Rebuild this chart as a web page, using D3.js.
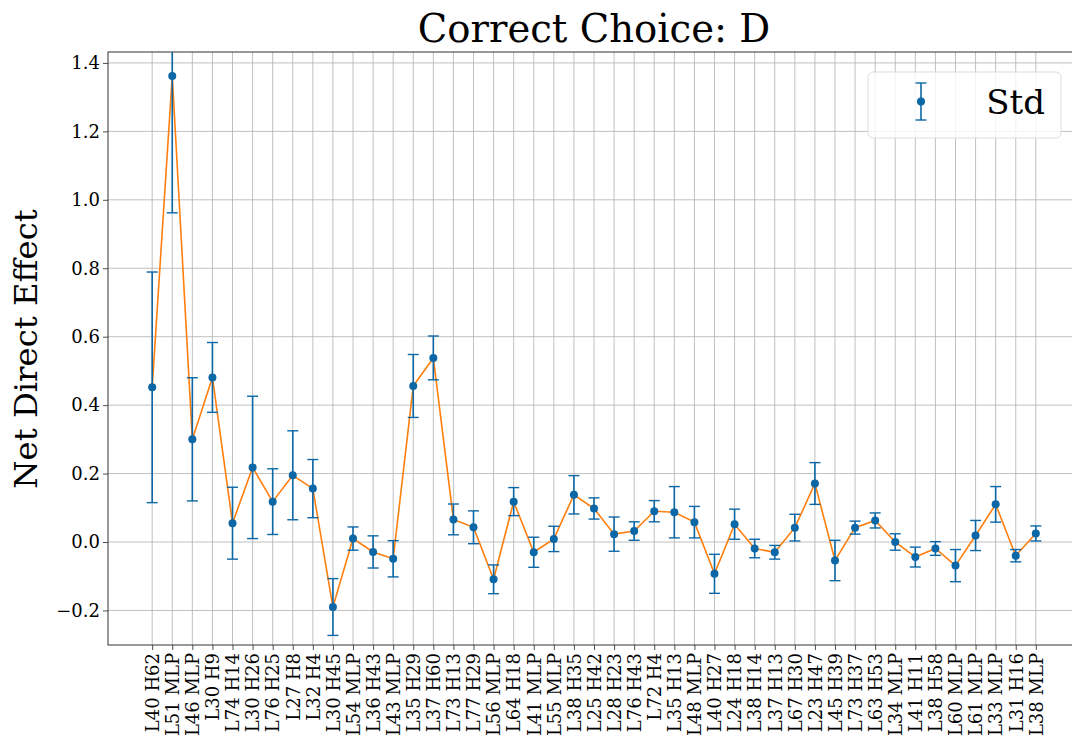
<!DOCTYPE html>
<html>
<head>
<meta charset="utf-8">
<script src="https://cdn.jsdelivr.net/npm/d3@7"></script>
<style>
  body { margin: 0; background: #fff; }
  svg { display: block; font-family: "DejaVu Serif", serif; }
</style>
</head>
<body>
<svg id="chart" width="1072" height="740"></svg>
<script>
// components along the x axis
var labels = ["L40 H62", "L51 MLP", "L46 MLP", "L30 H9", "L74 H14", "L30 H26", "L76 H25", "L27 H8",
	"L32 H4", "L30 H45", "L54 MLP", "L36 H43", "L43 MLP", "L35 H29", "L37 H60", "L73 H13", "L77 H29",
	"L56 MLP", "L64 H18", "L41 MLP", "L55 MLP", "L38 H35", "L25 H42", "L28 H23", "L76 H43", "L72 H4",
	"L35 H13", "L48 MLP", "L40 H27", "L24 H18", "L38 H14", "L37 H13", "L67 H30", "L23 H47", "L45 H39",
	"L73 H37", "L63 H53", "L34 MLP", "L41 H11", "L38 H58", "L60 MLP", "L61 MLP", "L33 MLP", "L31 H16",
	"L38 MLP"];

// mean net direct effect
var means = [0.452, 1.362, 0.300, 0.481, 0.055, 0.218, 0.118, 0.195, 0.156, -0.190, 0.010, -0.029,
	-0.049, 0.456, 0.538, 0.066, 0.043, -0.109, 0.118, -0.030, 0.009, 0.138, 0.098, 0.023, 0.032,
	0.090, 0.087, 0.058, -0.093, 0.052, -0.019, -0.030, 0.042, 0.171, -0.054, 0.042, 0.063, 0.000,
	-0.044, -0.019, -0.069, 0.019, 0.110, -0.040, 0.025];

// standard deviation (half length of each error bar)
var stds = [0.337, 0.400, 0.180, 0.102, 0.105, 0.208, 0.096, 0.130, 0.085, 0.083, 0.034, 0.047,
	0.053, 0.092, 0.064, 0.045, 0.048, 0.042, 0.041, 0.044, 0.037, 0.056, 0.031, 0.050, 0.027,
	0.031, 0.075, 0.046, 0.057, 0.044, 0.027, 0.020, 0.039, 0.061, 0.059, 0.019, 0.022, 0.024,
	0.029, 0.020, 0.047, 0.044, 0.052, 0.018, 0.022];

var yTicks = [-0.2, 0.0, 0.2, 0.4, 0.6, 0.8, 1.0, 1.2, 1.4];

var blue = "#0b67a6", orange = "#ff7f0e", grid = "#b0b0b0";

var data = labels.map((l, i) => ({ label: l, i: i, mean: means[i], std: stds[i] }));

var svg = d3.select("#chart");
var pLeft = 108, pTop = 52, pRight = 1080, pBottom = 645;

// x with matplotlib's 5% margins on each side
var n = labels.length - 1;
var x = d3.scaleLinear().domain([-0.05 * n, n * 1.05]).range([pLeft, pRight]);
var y = d3.scaleLinear().domain([-0.301, 1.432]).range([pBottom, pTop]);

svg.append("defs").append("clipPath").attr("id", "plotclip")
	.append("rect").attr("x", pLeft).attr("y", pTop).attr("width", pRight - pLeft).attr("height", pBottom - pTop);

// grid
var g = svg.append("g");
g.selectAll(".vgrid").data(data).enter().append("line")
	.attr("x1", d => x(d.i)).attr("x2", d => x(d.i))
	.attr("y1", pTop).attr("y2", pBottom)
	.attr("stroke", grid).attr("stroke-width", 0.8);
g.selectAll(".hgrid").data(yTicks).enter().append("line")
	.attr("x1", pLeft).attr("x2", pRight)
	.attr("y1", d => y(d)).attr("y2", d => y(d))
	.attr("stroke", grid).attr("stroke-width", 0.8);

// axes
var xAxis = svg.append("g").attr("transform", `translate(0,${pBottom})`)
	.call(d3.axisBottom(x).tickValues(d3.range(labels.length)).tickFormat(i => labels[i]).tickSize(5).tickSizeOuter(0))
	.attr("font-family", null);
xAxis.selectAll("text")
	.attr("transform", "rotate(-90)")
	.attr("text-anchor", "end")
	.attr("x", -8).attr("y", 0).attr("dy", "0.35em")
	.style("font-size", "18px").attr("fill", "#000");

var yAxis = svg.append("g").attr("transform", `translate(${pLeft},0)`)
	.call(d3.axisLeft(y).tickValues(yTicks).tickFormat(d => d < 0 ? "\u2212" + Math.abs(d).toFixed(1) : d.toFixed(1)).tickSize(5).tickSizeOuter(0))
	.attr("font-family", null);
yAxis.selectAll("text").style("font-size", "18px").attr("fill", "#000").attr("x", -8);

svg.selectAll(".domain").remove();
svg.selectAll(".tick line").attr("stroke", "#222").attr("stroke-width", 0.8);

// spines
svg.append("rect").attr("x", pLeft).attr("y", pTop).attr("width", pRight - pLeft).attr("height", pBottom - pTop)
	.attr("fill", "none").attr("stroke", "#333").attr("stroke-width", 1);

var plot = svg.append("g").attr("clip-path", "url(#plotclip)");

// orange connecting line
plot.append("path").datum(data)
	.attr("d", d3.line().x(d => x(d.i)).y(d => y(d.mean)))
	.attr("fill", "none").attr("stroke", orange).attr("stroke-width", 1.6);

// error bars
var bars = plot.selectAll(".err").data(data).enter().append("g");
bars.append("line")
	.attr("x1", d => x(d.i)).attr("x2", d => x(d.i))
	.attr("y1", d => y(d.mean - d.std)).attr("y2", d => y(d.mean + d.std))
	.attr("stroke", blue).attr("stroke-width", 1.6);
bars.selectAll(".cap").data(d => [d.mean - d.std, d.mean + d.std].map(v => ({ i: d.i, v: v })))
	.enter().append("line")
	.attr("x1", d => x(d.i) - 5.5).attr("x2", d => x(d.i) + 5.5)
	.attr("y1", d => y(d.v)).attr("y2", d => y(d.v))
	.attr("stroke", blue).attr("stroke-width", 1.4);
bars.append("circle")
	.attr("cx", d => x(d.i)).attr("cy", d => y(d.mean)).attr("r", 4)
	.attr("fill", blue);

// title and y label
svg.append("text").attr("x", 594).attr("y", 42).attr("text-anchor", "middle")
	.style("font-size", "38.6px").text("Correct Choice: D");
svg.append("text").attr("transform", "translate(37,349) rotate(-90)").attr("text-anchor", "middle")
	.style("font-size", "32.3px").text("Net Direct Effect");

// legend
var lg = svg.append("g");
lg.append("rect").attr("x", 868).attr("y", 72).attr("width", 193).attr("height", 66).attr("rx", 5)
	.attr("fill", "#fff").attr("fill-opacity", 0.8).attr("stroke", "#ddd").attr("stroke-width", 1);
lg.append("line").attr("x1", 921).attr("x2", 921).attr("y1", 83).attr("y2", 120)
	.attr("stroke", blue).attr("stroke-width", 1.6);
lg.selectAll(".lcap").data([83, 120]).enter().append("line")
	.attr("x1", 915.5).attr("x2", 926.5).attr("y1", d => d).attr("y2", d => d)
	.attr("stroke", blue).attr("stroke-width", 1.4);
lg.append("circle").attr("cx", 921).attr("cy", 101.5).attr("r", 4).attr("fill", blue);
lg.append("text").attr("x", 1045).attr("y", 114).attr("text-anchor", "end")
	.style("font-size", "34px").text("Std");
</script>
</body>
</html>
